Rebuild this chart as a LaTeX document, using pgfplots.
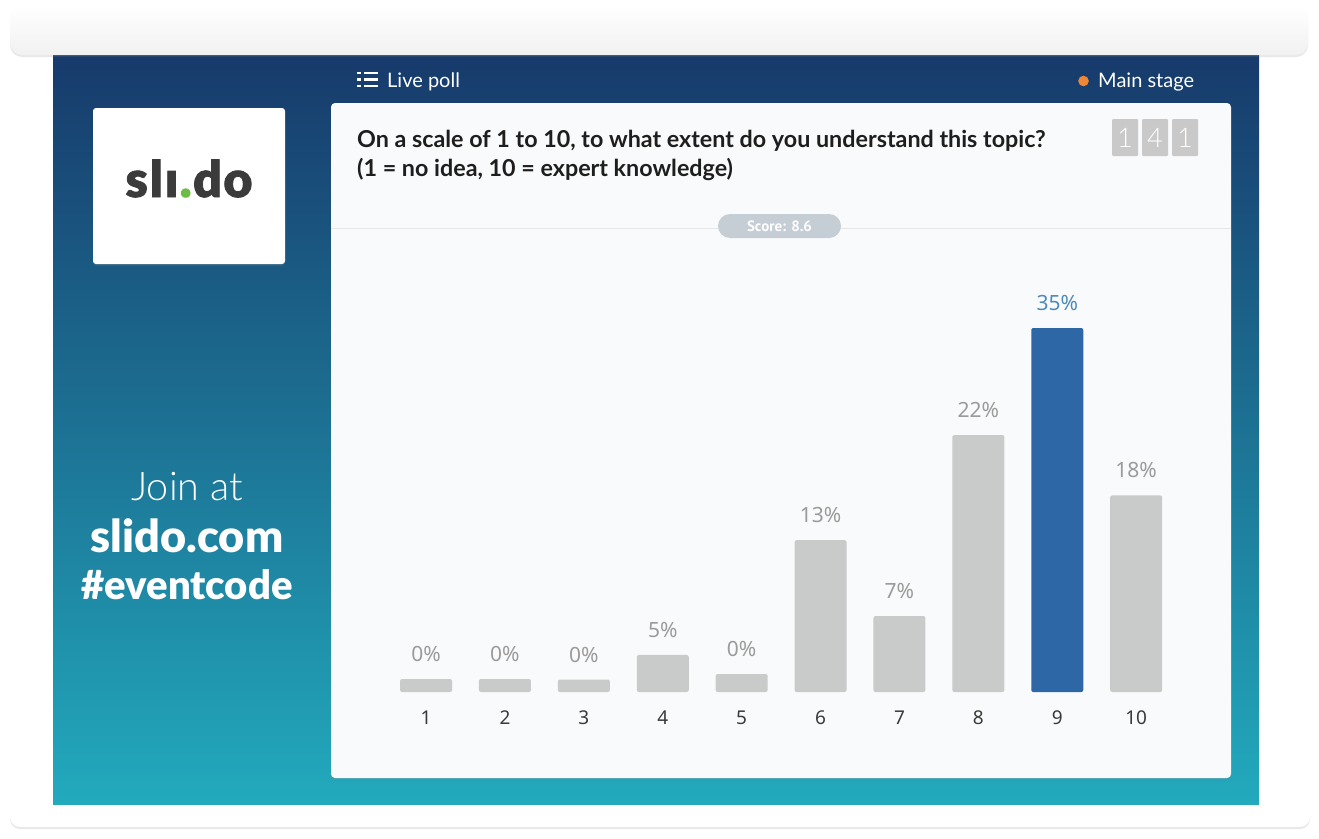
\documentclass[border=0pt]{standalone}
\usepackage{fontspec}
\setmainfont{Lato}
\newfontfamily\latolight{Lato Light}
\newfontfamily\latoblack{Lato Black}
\newfontfamily\logofont[FakeBold=1.6]{Lato Black}
\newfontfamily\robo{Noto Sans}
\newfontfamily\ptsans{PT Sans}
\usepackage{pgfplots}
\usepackage{pgfplotstable}
\pgfplotsset{compat=1.18}
\usetikzlibrary{shadows}
\definecolor{navy}{HTML}{173A6B}
\definecolor{midc}{HTML}{1C7095}
\definecolor{tealc}{HTML}{22AABD}
\definecolor{cardbg}{HTML}{F9FAFB}
\definecolor{linecol}{HTML}{E4E6E9}
\definecolor{bargray}{HTML}{C9CACA}
\definecolor{barblue}{HTML}{2D67A5}
\definecolor{labelgray}{HTML}{9B9B9B}
\definecolor{labelblue}{HTML}{4C8BBA}
\definecolor{tickcol}{HTML}{3A3A3A}
\definecolor{pill}{HTML}{C5CDD5}
\definecolor{digitbox}{HTML}{C9C9C9}
\definecolor{orangec}{HTML}{EE8636}
\definecolor{logotext}{HTML}{3B3B3B}
\definecolor{sgreen}{HTML}{6CBD45}
\definecolor{qcol}{HTML}{1E1E1E}
\definecolor{barbot}{HTML}{F1F1F1}

% bar heights as drawn (scale: 35 = tallest bar), labels as shown
\pgfplotstableread{
x h lab
1 1.25 0
2 1.25 0
3 1.20 0
4 3.56 5
5 1.73 0
6 14.6 13
7 7.3 7
8 24.7 22
10 18.9 18
}\graydata
\pgfplotstableread{
x h lab
9 35 35
}\bluedata

\begin{document}
\begin{tikzpicture}[x=1pt,y=-1pt]
\path[use as bounding box] (0,0) rectangle (1319,838);
\fill[white] (0,0) rectangle (1319,838);
% blue panel
\shade[top color=navy, middle color=midc, bottom color=tealc] (53,55) rectangle (1259,805);
% top bar
\path[rounded corners=12pt, top color=white, bottom color=barbot,
  drop shadow={opacity=0.18, shadow xshift=0pt, shadow yshift=-2pt}] (10,6) rectangle (1308,55);
% bottom bar
\path[rounded corners=10pt, top color=white, bottom color=white,
  drop shadow={opacity=0.18, shadow xshift=0pt, shadow yshift=-2pt}] (10,805) rectangle (1310,827);
% logo
\path[fill=white, rounded corners=3pt, drop shadow={opacity=0.2, shadow xshift=0pt, shadow yshift=-2pt}] (93,108) rectangle (285,264);
\node[anchor=base, inner sep=0, text=logotext, font=\logofont\fontsize{50}{50}\selectfont] at (189,197) {s\hspace{2pt}l\hspace{2pt}\i\hspace{1.5pt}{\color{sgreen}.}\hspace{1.5pt}d\hspace{1.5pt}o};
% join text
\node[anchor=base, inner sep=0, text=white, font=\latolight\fontsize{39.5}{39.5}\selectfont] at (187,500) {Join at};
\node[anchor=base, inner sep=0, text=white, font=\latoblack\fontsize{45}{45}\selectfont] at (187,552) {slido.com};
\node[anchor=base, inner sep=0, text=white, font=\latoblack\fontsize{40}{40}\selectfont] at (187,599) {\#eventcode};
% live poll
\foreach \yy in {73,79.5,86} {
  \fill[white] (357,\yy-1.4) rectangle (361,\yy+1.4);
  \fill[white] (364,\yy-1.4) rectangle (377.5,\yy+1.4);
}
\node[anchor=base west, inner sep=0, text=white, font=\fontsize{20}{20}\selectfont] at (387,87) {Live poll};
\fill[orangec] (1083.5,81) circle (5.3);
\node[anchor=base west, inner sep=0, text=white, font=\fontsize{20}{20}\selectfont] at (1098,87) {Main stage};
% card
\path[fill=cardbg, rounded corners=4pt, drop shadow={opacity=0.25, shadow xshift=0pt, shadow yshift=-2pt}] (331,103) rectangle (1231,778);
\draw[linecol, line width=1pt] (331,228) -- (1231,228);
\fill[pill, rounded corners=12pt] (718,214) rectangle (841,238);
\node[text=white, inner sep=0, font=\ptsans\bfseries\fontsize{15}{15}\selectfont] at (779.5,226) {Score: 8.6};
\node[anchor=base west, inner sep=0, text=qcol, font=\bfseries\fontsize{23.3}{23.3}\selectfont] at (357,147.5) {On a scale of 1 to 10, to what extent do you understand this topic?};
\node[anchor=base west, inner sep=0, text=qcol, font=\bfseries\fontsize{23.3}{23.3}\selectfont] at (357,176) {(1 = no idea, 10 = expert knowledge)};
\foreach \xx/\dd in {1112/1,1142/4,1172/1} {
  \fill[digitbox, rounded corners=1pt] (\xx,119) rectangle (\xx+26,156);
  \node[text=white, inner sep=0, font=\latolight\fontsize{27}{27}\selectfont] at (\xx+13,137.5) {\dd};
}
% chart
\begin{axis}[
  at={(386.6pt,-692pt)}, anchor=south west,
  scale only axis, width=789pt, height=416pt,
  xmin=0.5, xmax=10.5, ymin=0, ymax=40,
  axis line style={draw=none}, tick style={draw=none},
  ytick=\empty, xtick={1,2,3,4,5,6,7,8,9,10},
  xticklabels={1,2,3,4,5,6,7,8,9,10},
  major tick length=0pt,
  xticklabel style={font=\robo\fontsize{19}{19}\selectfont, text=tickcol, anchor=center, yshift=-26pt},
  clip=false,
]
\addplot[ybar, bar width=52pt, bar shift=0pt, fill=bargray, draw=none, rounded corners=2pt,
  point meta=explicit symbolic, nodes near coords={\pgfplotspointmeta\%},
  nodes near coords style={font=\robo\fontsize{21}{21}\selectfont, text=labelgray, anchor=center, yshift=25pt, rounded corners=0pt}]
  table[x=x, y=h, meta=lab] {\graydata};
\addplot[ybar, bar width=52pt, bar shift=0pt, fill=barblue, draw=none, rounded corners=2pt,
  point meta=explicit symbolic, nodes near coords={\pgfplotspointmeta\%},
  nodes near coords style={font=\robo\fontsize{21}{21}\selectfont\bfseries, text=labelblue, anchor=center, yshift=25pt, rounded corners=0pt}]
  table[x=x, y=h, meta=lab] {\bluedata};
\end{axis}
\end{tikzpicture}
\end{document}
